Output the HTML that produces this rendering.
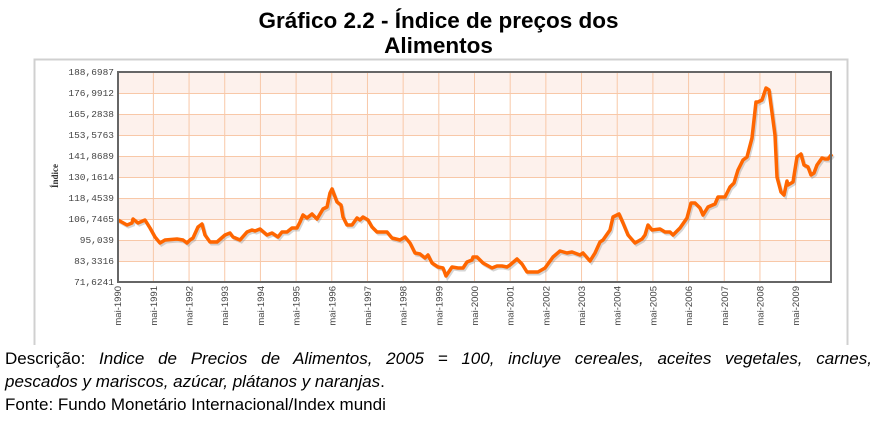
<!DOCTYPE html>
<html><head><meta charset="utf-8"><style>
body{margin:0;width:877px;height:423px;background:#fff;overflow:hidden;font-family:"Liberation Sans",sans-serif;}
.t{position:absolute;left:0;width:877px;text-align:center;font-weight:bold;font-size:22.5px;line-height:25px;color:#000}
.cap{position:absolute;left:5px;width:867px;font-size:17px;line-height:23px;color:#000;white-space:nowrap}
</style></head><body>
<div class="t" style="top:8px">Gráfico 2.2 - Índice de preços dos</div>
<div class="t" style="top:33px">Alimentos</div>
<svg style="position:absolute;left:0;top:0" width="877" height="345">
<rect x="34.5" y="59.5" width="813" height="290" fill="#fff" stroke="#d0d0d0" stroke-width="2"/>
<g fill="#fdf1ec">
<rect x="118" y="72" width="713" height="21"/><rect x="118" y="114" width="713" height="21"/><rect x="118" y="156" width="713" height="21"/><rect x="118" y="198" width="713" height="21"/><rect x="118" y="240" width="713" height="21"/>
</g>
<g stroke="#f8c8a8" stroke-width="1">
<line x1="118" x2="831" y1="93.5" y2="93.5"/><line x1="118" x2="831" y1="114.5" y2="114.5"/><line x1="118" x2="831" y1="135.5" y2="135.5"/><line x1="118" x2="831" y1="156.5" y2="156.5"/><line x1="118" x2="831" y1="177.5" y2="177.5"/><line x1="118" x2="831" y1="198.5" y2="198.5"/><line x1="118" x2="831" y1="219.5" y2="219.5"/><line x1="118" x2="831" y1="240.5" y2="240.5"/><line x1="118" x2="831" y1="261.5" y2="261.5"/>
</g>
<g stroke="#f8c8a8" stroke-width="1" id="vg"></g>
<polyline fill="none" stroke="#888" stroke-opacity="0.35" stroke-width="3" transform="translate(1.5,2)" points="118,220 127,225 132,223 133,219 138,223 145,220 150,228 155,237 160,243 165,240 177,239 183,240 187,243 190,240 193,238 198,227 202,224 205,235 210,242 217,242 225,235 230,233 233,237 240,240 247,232 252,230 255,231 260,229 267,235 272,233 278,237 282,232 287,232 292,228 297,228 300,222 303,215 307,218 312,214 317,219 323,209 327,207 330,193 332,189 337,202 341,205 343,217 347,225 352,225 357,218 360,220 363,217 368,220 372,227 377,232 387,232 392,238 400,240 405,237 410,243 415,253 420,254 425,258 428,255 432,263 438,267 443,268 446,276 452,267 458,268 463,268 467,262 472,260 473,257 477,257 483,263 492,268 497,266 502,266 507,267 510,265 517,259 522,264 527,272 533,272 538,272 545,268 553,257 560,251 567,253 572,252 580,255 583,253 590,261 595,253 600,242 603,240 610,230 613,217 619,214 623,223 628,235 635,243 642,239 645,235 648,225 652,230 660,229 665,232 670,232 673,235 680,228 687,218 691,203 695,203 700,208 703,215 708,207 715,204 718,197 725,197 730,187 734,183 738,170 743,160 747,157 752,138 756,102 758,102 762,100 766,88 769,90 775,135 777,177 781,192 784,195 787,181 788,185 793,182 797,157 801,154 804,165 808,167 811,175 814,173 817,165 822,158 825,159 828,159 832,154"/>
<polyline fill="none" stroke="#ff6600" stroke-width="3.5" stroke-linejoin="round" points="118,220 127,225 132,223 133,219 138,223 145,220 150,228 155,237 160,243 165,240 177,239 183,240 187,243 190,240 193,238 198,227 202,224 205,235 210,242 217,242 225,235 230,233 233,237 240,240 247,232 252,230 255,231 260,229 267,235 272,233 278,237 282,232 287,232 292,228 297,228 300,222 303,215 307,218 312,214 317,219 323,209 327,207 330,193 332,189 337,202 341,205 343,217 347,225 352,225 357,218 360,220 363,217 368,220 372,227 377,232 387,232 392,238 400,240 405,237 410,243 415,253 420,254 425,258 428,255 432,263 438,267 443,268 446,276 452,267 458,268 463,268 467,262 472,260 473,257 477,257 483,263 492,268 497,266 502,266 507,267 510,265 517,259 522,264 527,272 533,272 538,272 545,268 553,257 560,251 567,253 572,252 580,255 583,253 590,261 595,253 600,242 603,240 610,230 613,217 619,214 623,223 628,235 635,243 642,239 645,235 648,225 652,230 660,229 665,232 670,232 673,235 680,228 687,218 691,203 695,203 700,208 703,215 708,207 715,204 718,197 725,197 730,187 734,183 738,170 743,160 747,157 752,138 756,102 758,102 762,100 766,88 769,90 775,135 777,177 781,192 784,195 787,181 788,185 793,182 797,157 801,154 804,165 808,167 811,175 814,173 817,165 822,158 825,159 828,159 832,154"/>
<rect x="118" y="72" width="713" height="210" fill="none" stroke="#666" stroke-width="2"/>
<g font-family="Liberation Mono,monospace" font-size="9.5" fill="#444" text-anchor="end">
<text x="114" y="75">188,6987</text><text x="114" y="96">176,9912</text><text x="114" y="117">165,2838</text><text x="114" y="138">153,5763</text><text x="114" y="159">141,8689</text><text x="114" y="180">130,1614</text><text x="114" y="201">118,4539</text><text x="114" y="222">106,7465</text><text x="114" y="243">95,039</text><text x="114" y="264">83,3316</text><text x="114" y="285">71,6241</text>
</g>
<text transform="translate(58,176) rotate(-90)" font-family="Liberation Serif,serif" font-weight="bold" font-size="9" fill="#333" text-anchor="middle">Índice</text>
<g font-family="Liberation Sans,sans-serif" font-size="9.5" fill="#444" text-anchor="end" id="xl"></g>
</svg>
<script>
var vg=document.getElementById('vg'),xl=document.getElementById('xl'),ns='http://www.w3.org/2000/svg';
for(var i=0;i<20;i++){var x=117.7+i*35.68;
if(i>0){var l=document.createElementNS(ns,'line');l.setAttribute('x1',x);l.setAttribute('x2',x);l.setAttribute('y1',72);l.setAttribute('y2',282);vg.appendChild(l);}
var t=document.createElementNS(ns,'text');t.setAttribute('transform','translate('+(x+3.5)+',286) rotate(-90)');t.textContent='mai-'+(1990+i);xl.appendChild(t);}
</script>
<div class="cap" style="top:347px;white-space:normal;text-align:justify;text-align-last:justify">Descrição: <i>Indice de Precios de Alimentos, 2005 = 100, incluye cereales, aceites vegetales, carnes,</i></div>
<div class="cap" style="top:370px"><i>pescados y mariscos, azúcar, plátanos y naranjas</i>.</div>
<div class="cap" style="top:393px">Fonte: Fundo Monetário Internacional/Index mundi</div>
</body></html>
